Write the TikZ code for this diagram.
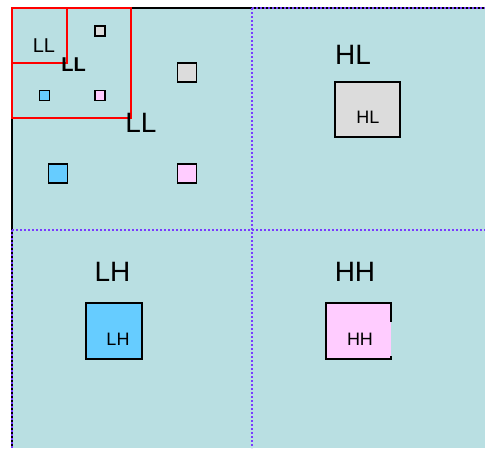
\documentclass[tikz,border=0pt]{standalone}
\usepackage{fontspec}
\setmainfont{Liberation Sans}
\definecolor{bandbg}{RGB}{185,223,226}
\definecolor{gridline}{RGB}{120,60,255}
\definecolor{boxgray}{RGB}{220,220,220}
\definecolor{boxblue}{RGB}{102,204,255}
\definecolor{boxpink}{RGB}{255,204,255}
\tikzset{
  frame/.style={draw=black,line width=2pt},
  subband/.style={draw=gridline,line width=1.6pt,dash pattern=on 2pt off 2pt},
  level/.style={draw=red,line width=1.8pt},
  coef/.style={draw=black,line width=1.6pt,inner sep=0pt,minimum width=#1,minimum height=#1},
  coefbox/.style={draw=black,line width=1.8pt,inner sep=0pt},
  bandtag/.style={anchor=base,inner sep=0pt,font=\fontsize{28}{30}\selectfont},
  boxtag/.style={anchor=base,inner sep=0pt,font=\fontsize{18}{20}\selectfont},
}
\begin{document}
\begin{tikzpicture}[x=1pt,y=-1pt]
\useasboundingbox (0,0) rectangle (485,448);
% background of the transform plane
\fill[bandbg] (12,8) rectangle (485,448);
% outer frame
\draw[frame] (485,8) -- (12,8) -- (12,448);
% subband borders
\draw[subband] (252,8) -- (252,448);
\draw[subband] (12,230) -- (485,230);
\draw[subband] (252,8) -- (485,8);
\draw[subband] (12,230) -- (12,448);
% nested LL levels
\draw[level] (12,8) rectangle (131,118);
\draw[level] (12,8) rectangle (67,63);

% level 3 coefficients
\node[coef=10pt,fill=boxgray] (g3) at (100,31) {};
\node[coef=10pt,fill=boxblue] (b3) at (44.5,95.5) {};
\node[coef=10pt,fill=boxpink] (p3) at (100,95.5) {};
% level 2 coefficients
\node[coef=19pt,fill=boxgray] (g2) at (187,72.5) {};
\node[coef=19pt,fill=boxblue] (b2) at (58,173.5) {};
\node[coef=19pt,fill=boxpink] (p2) at (187,173.5) {};

% LL labels
\node[anchor=base,inner sep=0pt,font=\fontsize{20}{22}\selectfont] (ll3) at (44,52) {LL};
\node[anchor=base,inner sep=0pt,font=\bfseries\fontsize{20}{22}\selectfont] (ll2) at (73.5,71) {LL};
\node[bandtag] (ll1) at (141,132) {LL};

% level 1 subbands
\node[bandtag] (hl) at (353,64) {HL};
\node[bandtag] (lh) at (112.5,281) {LH};
\node[bandtag] (hh) at (355,281) {HH};

\node[coefbox,fill=boxgray,minimum width=65pt,minimum height=55pt] (hlbox) at (367.5,109.5) {};
\node[boxtag] (hltext) at (368,123) {HL};

\node[coefbox,fill=boxblue,minimum width=56pt,minimum height=56pt] (lhbox) at (114,331) {};
\node[boxtag] (lhtext) at (118,345) {LH};

\node[inner sep=0pt,fill=boxpink,minimum width=65pt,minimum height=56pt] (hhbox) at (358.5,331) {};
\draw[line width=1.8pt] (hhbox.east |- 0,322) -- (hhbox.north east) -- (hhbox.north west)
  -- (hhbox.south west) -- (hhbox.south east) -- (hhbox.east |- 0,356);
\node[boxtag] (hhtext) at (360,345) {HH};
\end{tikzpicture}
\end{document}
